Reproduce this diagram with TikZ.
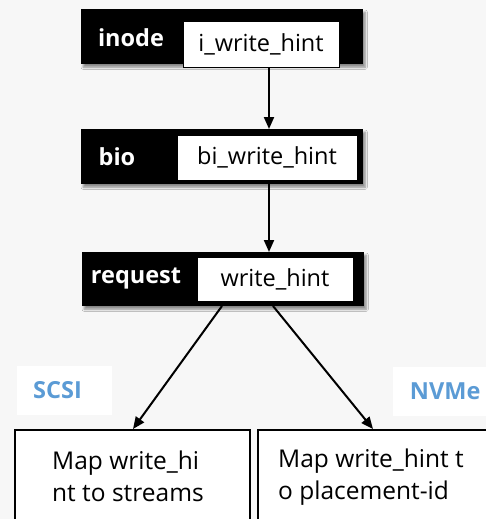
\documentclass[tikz,border=0pt]{standalone}
\usepackage{fontspec}
\setmainfont{Open Sans}
\usetikzlibrary{arrows.meta,shadows.blur}
\definecolor{pagebg}{RGB}{247,247,247}
\definecolor{tagblue}{RGB}{91,155,213}
\tikzset{
  layerbox/.style={fill=black, draw=none, anchor=north west,
    blur shadow={shadow xshift=2pt, shadow yshift=-3pt, shadow blur steps=6, shadow opacity=45}},
  fieldbox/.style={fill=white, draw=black, line width=0.6pt, inner sep=0pt,
    font=\fontsize{23.5}{28}\selectfont},
  layername/.style={text=white, font=\bfseries\fontsize{23.5}{28}\selectfont, inner sep=0pt},
  flow/.style={line width=2pt, -{Triangle[length=12pt,width=10pt]}},
  tag/.style={fill=white, inner sep=0pt, text=tagblue, font=\bfseries\fontsize{23.5}{28}\selectfont},
  sinkbox/.style={draw=black, line width=2pt, fill=white, anchor=north west},
  sinktext/.style={anchor=north west, align=left, inner sep=0pt,
    font=\fontsize{24.5}{32}\selectfont}
}
\begin{document}
\begin{tikzpicture}[x=1pt, y=-1pt]
  \fill[pagebg] (0,0) rectangle (486,519);
  \useasboundingbox (0,0) rectangle (486,519);
  \clip (0,0) rectangle (486,519);

  % inode layer
  \node[layerbox, minimum width=282pt, minimum height=55pt] (inode) at (81,9) {};
  \node[layername] (inodelbl) at (131,38) {inode};
  \node[fieldbox, minimum width=156pt, minimum height=46pt] (iwh) at (261,44) {i\_write\_hint};

  % bio layer
  \node[layerbox, minimum width=282pt, minimum height=55pt] (bio) at (81,129) {};
  \node[layername] (biolbl) at (117,157) {bio};
  \node[fieldbox, minimum width=180pt, minimum height=45pt] (biwh) at (267,157.5) {bi\_write\_hint};

  % request layer
  \node[layerbox, minimum width=282pt, minimum height=54pt] (req) at (82,252) {};
  \node[layername] (reqlbl) at (136,279) {request};
  \node[fieldbox, minimum width=156pt, minimum height=44pt] (wh) at (275,279) {write\_hint};

  % driver tags
  \node[tag, minimum width=95pt, minimum height=49pt] (scsi) at (64.5,390.5) {\hspace*{-14pt}SCSI};
  \node[tag, minimum width=100pt, minimum height=49pt, anchor=west] (nvme) at (393,391.5) {\hspace*{4pt}NVMe};

  % driver-side mapping boxes
  \node[sinkbox, minimum width=235pt, minimum height=120pt] (smap) at (14,429) {};
  \node[sinkbox, minimum width=240pt, minimum height=120pt] (nmap) at (257,429) {};
  \node[sinktext] (smaptxt) at (52,451) {Map write\_hi\\nt to streams};
  \node[sinktext] (nmaptxt) at (278,449) {Map write\_hint t\\o placement-id};

  % connectors
  \coordinate (reqL) at (222,306);
  \coordinate (reqR) at (273,306);
  \coordinate (smapT) at (133,429);
  \coordinate (nmapT) at (373,429);
  \draw[flow] (iwh.south -| 269,0) -- (bio.north -| 269,0);
  \draw[flow] (biwh.south -| 269,0) -- (req.north -| 269,0);
  \draw[flow] (reqL) -- (smapT);
  \draw[flow] (reqR) -- (nmapT);
\end{tikzpicture}
\end{document}
